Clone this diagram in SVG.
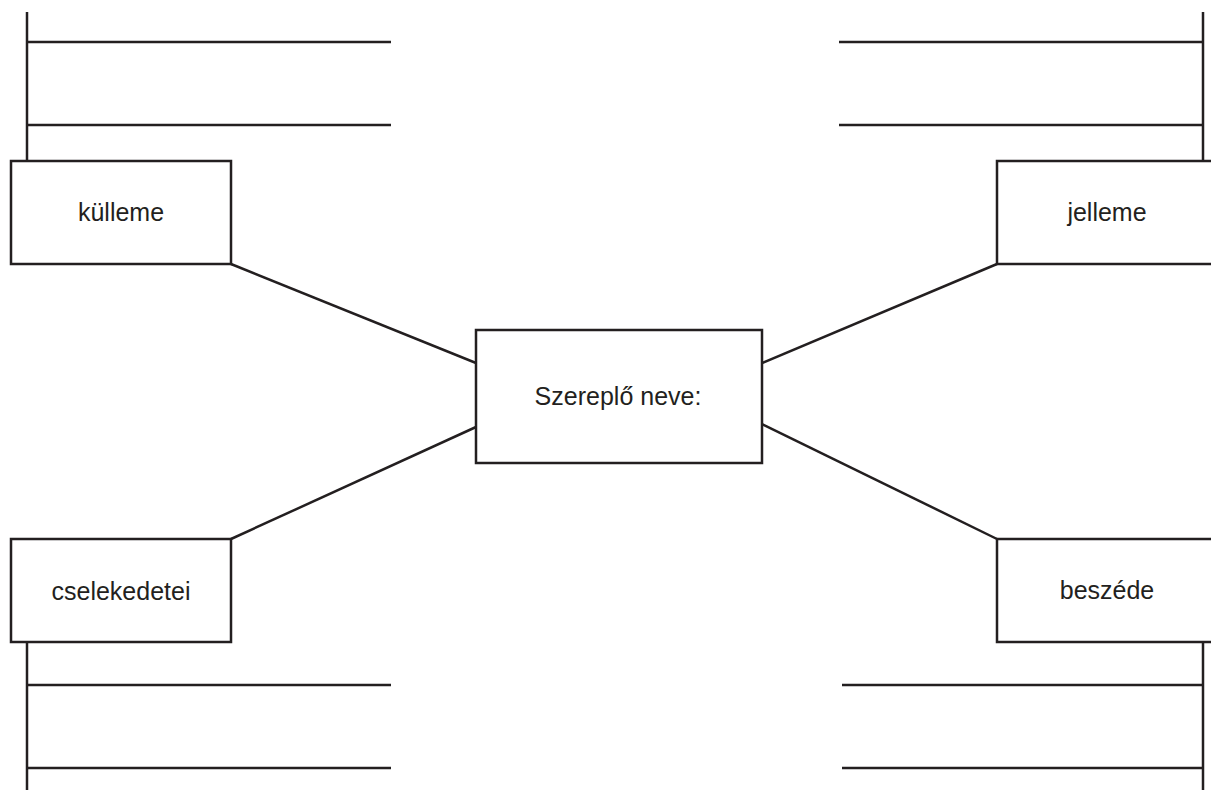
<svg xmlns="http://www.w3.org/2000/svg" width="1211" height="790" viewBox="0 0 1211 790">
<style>
.ln{stroke:#231f20;stroke-width:2.5;fill:none}
.box{stroke:#231f20;stroke-width:2.5;fill:#fff}
.lbl{font-family:"Liberation Sans",Arial,sans-serif;font-size:25px;fill:#231f20;text-anchor:middle}
</style>
<rect width="1211" height="790" fill="#fff"/>
<g id="rules">
<line class="ln" x1="27" y1="12" x2="27" y2="161"/>
<line class="ln" x1="27" y1="42" x2="391" y2="42"/>
<line class="ln" x1="27" y1="125" x2="391" y2="125"/>
<line class="ln" x1="1203" y1="12" x2="1203" y2="161"/>
<line class="ln" x1="839" y1="42" x2="1203" y2="42"/>
<line class="ln" x1="839" y1="125" x2="1203" y2="125"/>
<line class="ln" x1="27" y1="642" x2="27" y2="790"/>
<line class="ln" x1="27" y1="685" x2="391" y2="685"/>
<line class="ln" x1="27" y1="768" x2="391" y2="768"/>
<line class="ln" x1="1203" y1="642" x2="1203" y2="790"/>
<line class="ln" x1="842" y1="685" x2="1203" y2="685"/>
<line class="ln" x1="842" y1="768" x2="1203" y2="768"/>
</g>
<g id="connectors">
<line class="ln" x1="231" y1="264" x2="476" y2="363"/>
<line class="ln" x1="997" y1="264" x2="762" y2="363"/>
<line class="ln" x1="231" y1="539" x2="476" y2="427"/>
<line class="ln" x1="997" y1="539" x2="762" y2="424"/>
</g>
<g id="kulleme">
<rect class="box" x="11" y="161" width="220" height="103"/>
<text class="lbl" x="121" y="221">külleme</text>
</g>
<g id="jelleme">
<rect class="box" x="997" y="161" width="220" height="103"/>
<text class="lbl" x="1107" y="221">jelleme</text>
</g>
<g id="center">
<rect class="box" x="476" y="330" width="286" height="133"/>
<text class="lbl" x="618" y="405">Szereplő neve:</text>
</g>
<g id="cselekedetei">
<rect class="box" x="11" y="539" width="220" height="103"/>
<text class="lbl" x="121" y="600">cselekedetei</text>
</g>
<g id="beszede">
<rect class="box" x="997" y="539" width="220" height="103"/>
<text class="lbl" x="1107" y="599">beszéde</text>
</g>
</svg>
